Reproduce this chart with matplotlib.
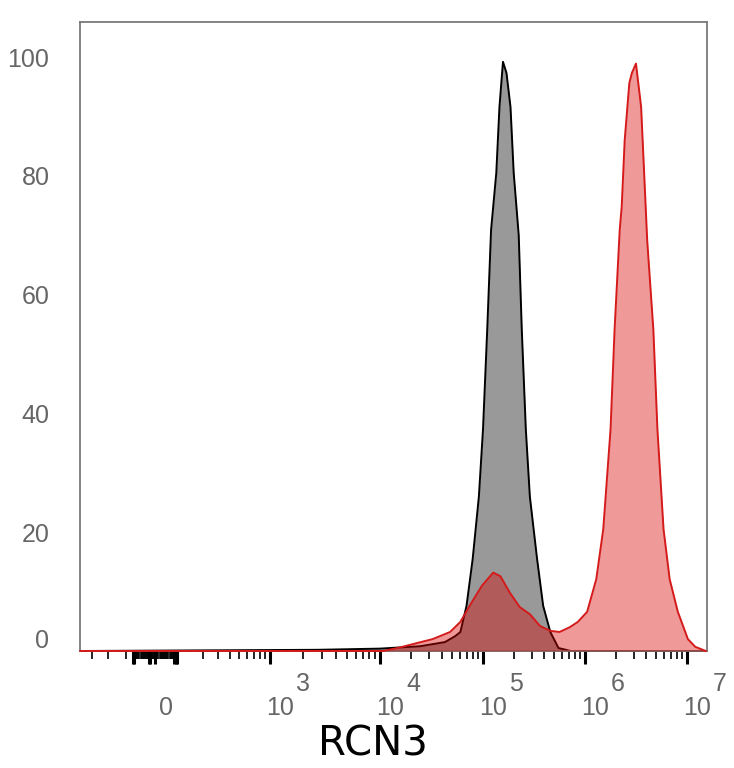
import numpy as np
import matplotlib
matplotlib.use("Agg")
import matplotlib.pyplot as plt
from matplotlib.transforms import ScaledTranslation

# ---------------- data ----------------
# Isotype control (gray) histogram: fluorescence intensity vs. normalized count
gray_x = [-400, 2.7e3, 1.0e4, 2.45e4, 4.27e4, 5.37e4, 6.03e4, 6.92e4, 7.94e4,
          9.12e4, 1.0e5, 1.10e5, 1.20e5, 1.35e5, 1.45e5, 1.57e5, 1.70e5,
          1.86e5, 2.0e5, 2.24e5, 2.40e5, 2.63e5, 2.88e5, 3.39e5, 3.89e5,
          4.57e5, 5.50e5, 7.24e5, 1.5e7]
gray_y = [0, 0.2, 0.4, 0.8, 1.5, 2.5, 3.2, 7.6, 15.5,
          26, 37.3, 54.1, 70.9, 80.5, 91.6, 99.2, 97.3,
          91.6, 80.5, 70, 54.1, 37.3, 26, 15.5, 7.6,
          3.2, 0.5, 0, 0]

# RCN3 stained (red) histogram
red_x = [-400, 1.07e4, 1.48e4, 3.24e4, 4.79e4, 6.03e4, 7.41e4, 9.77e4,
         1.26e5, 1.48e5, 1.82e5, 2.29e5, 2.88e5, 3.63e5, 4.57e5, 5.62e5,
         7.08e5, 8.51e5, 1.05e6, 1.29e6, 1.51e6, 1.78e6, 1.95e6, 2.19e6,
         2.29e6, 2.45e6, 2.72e6, 2.88e6, 3.16e6, 3.55e6, 3.80e6, 4.07e6,
         4.68e6, 5.13e6, 5.89e6, 6.76e6, 8.13e6, 1.02e7, 1.20e7, 1.51e7]
red_y = [0, 0, 0.5, 2.0, 3.2, 4.9, 7.6, 11,
         13.2, 12.6, 9.9, 7.4, 6.2, 4.2, 3.4, 3.2,
         4.0, 4.9, 6.6, 12.1, 20.5, 37.3, 54.1, 70.9,
         74.8, 86, 95.6, 97.3, 98.9, 91.6, 80.5, 69.2,
         54.1, 37.3, 20.5, 12.1, 6.6, 2, 0.7, 0]

x_major = [0, 1e3, 1e4, 1e5, 1e6, 1e7]
x_major_base = ["0", "10", "10", "10", "10", "10"]
x_major_exp = ["", "3", "4", "5", "6", "7"]
y_ticks = [0, 20, 40, 60, 80, 100]
x_label = "RCN3"

# ---------------- biexponential-like display scale ----------------
LW = 160.0
_anchor_v = np.array([-403.0, 0.0, 1e3, 1e4, 1e5, 1e6, 1e7, 1.55e7])
_anchor_p = np.array([80.0, 155.0, 270.0, 380.0, 483.0, 585.0, 687.0, 707.0])
_U = np.arcsinh(_anchor_v / LW)
_slope = 45.33
_U = np.concatenate([[_U[0] - 40], _U, [_U[-1] + 40]])
_P = np.concatenate([[_anchor_p[0] - 40 * _slope], _anchor_p, [_anchor_p[-1] + 40 * _slope]])


def fwd(v):
    return np.interp(np.arcsinh(np.asarray(v, dtype=float) / LW), _U, _P)


def inv(p):
    return LW * np.sinh(np.interp(np.asarray(p, dtype=float), _P, _U))


# ---------------- figure ----------------
W, H = 734, 768
fig = plt.figure(figsize=(W / 100, H / 100), dpi=100)
ax = fig.add_axes([80 / W, 1 - 651 / H, 627 / W, (651 - 22) / H])

ax.set_xscale("function", functions=(fwd, inv))
ax.set_xlim(-403, 1.55e7)
ax.set_ylim(0, 105.9)

# histograms
ax.fill_between(gray_x, gray_y, 0, color="#999999", lw=0, zorder=1)
ax.plot(gray_x, gray_y, color="black", lw=1.4, zorder=2, clip_on=False)
ax.fill_between(red_x, red_y, 0, color=(0.85, 0.0, 0.0), alpha=0.4, lw=0, zorder=3)
ax.plot(red_x, red_y, color="#d41a1a", lw=1.4, zorder=4, clip_on=False)

# spines
for s in ax.spines.values():
    s.set_color("#7a7a7a")
    s.set_linewidth(1.3)

# y axis
ax.set_yticks(y_ticks)
ax.set_yticklabels([str(v) for v in y_ticks])
ax.tick_params(axis="y", length=0, pad=22, labelsize=18, labelcolor="#666666")
for lab in ax.get_yticklabels():
    lab.set_fontfamily("Liberation Sans")
    if lab.get_text() == "0":
        lab.set_transform(lab.get_transform() + ScaledTranslation(0, 13 / 100, fig.dpi_scale_trans))

# x axis ticks: dense block of ticks around zero, decade majors, log minors
zero_block = [-80, -75, -22, -16, 70, 76, 80]
zero_fill = list(range(-80, 81, 4))
majors = x_major + zero_block
major_labels = x_major_base + [""] * len(zero_block)
minor = [-300, -200, -110] + zero_fill + list(range(200, 1000, 100))
for dec in [1e3, 1e4, 1e5, 1e6]:
    minor += [k * dec for k in range(2, 10)]
ax.set_xticks(majors)
ax.set_xticks(minor, minor=True)
ax.set_xticklabels(major_labels)
ax.tick_params(axis="x", which="major", direction="out", length=9.5, width=2.2,
               color="black", pad=23, labelsize=18, labelcolor="#666666")
ax.tick_params(axis="x", which="minor", direction="out", length=5.5, width=1.2,
               color="black")
for lab in ax.get_xticklabels():
    lab.set_fontfamily("Liberation Sans")
    lab.set_transform(lab.get_transform() + ScaledTranslation(10.5 / 100, 0, fig.dpi_scale_trans))

# exponents of the decade labels
for xv, ex in zip(x_major, x_major_exp):
    if ex:
        ax.annotate(ex, xy=(xv, 0), xycoords=("data", "axes fraction"),
                    xytext=(33 / 100 * 72, -33 / 100 * 72), textcoords="offset points",
                    ha="center", va="center", fontsize=18, color="#666666",
                    family="Liberation Sans", annotation_clip=False)

ax.set_xlabel(x_label, fontsize=29, family="DejaVu Sans", color="black")
ax.xaxis.set_label_coords((373 - 80) / 627, (651 - 745) / 629)
ax.xaxis.label.set_va("center")

fig.savefig("out.png", dpi=100)
